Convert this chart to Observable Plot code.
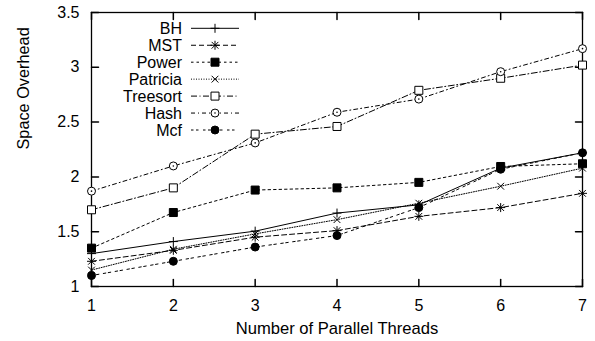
<!DOCTYPE html>
<html><head><meta charset="utf-8">
<script src="https://cdn.jsdelivr.net/npm/d3@7"></script>
<script src="https://cdn.jsdelivr.net/npm/@observablehq/plot@0.6"></script>
<style>body{margin:0;background:#fff}</style>
</head><body><div id="chart"></div>
<script>
const threads = [1, 2, 3, 4, 5, 6, 7];
const seriesNames = ["BH", "MST", "Power", "Patricia", "Treesort", "Hash", "Mcf"];
const bh = [1.30, 1.41, 1.505, 1.67, 1.745, 2.08, 2.22];
const mst = [1.23, 1.33, 1.45, 1.51, 1.64, 1.72, 1.85];
const power = [1.35, 1.675, 1.88, 1.90, 1.95, 2.095, 2.12];
const patricia = [1.15, 1.34, 1.48, 1.61, 1.76, 1.915, 2.08];
const treesort = [1.70, 1.90, 2.39, 2.46, 2.79, 2.90, 3.02];
const hash = [1.87, 2.10, 2.31, 2.59, 2.71, 2.96, 3.17];
const mcf = [1.10, 1.23, 1.36, 1.465, 1.72, 2.07, 2.22];
const yTicks = [1, 1.5, 2, 2.5, 3, 3.5];

const seriesValues = [bh, mst, power, patricia, treesort, hash, mcf];

// custom symbols where half-extent = r
const h = (size) => Math.sqrt(size / Math.PI);
const symPlus = {draw(c, s) { const r = h(s); c.moveTo(-r, 0); c.lineTo(r, 0); c.moveTo(0, -r); c.lineTo(0, r); }};
const symTimes = {draw(c, s) { const r = h(s) * 0.75; c.moveTo(-r, -r); c.lineTo(r, r); c.moveTo(-r, r); c.lineTo(r, -r); }};
const symAst = {draw(c, s) { const r = h(s); const q = r * 0.75; c.moveTo(-r, 0); c.lineTo(r, 0); c.moveTo(0, -r); c.lineTo(0, r); c.moveTo(-q, -q); c.lineTo(q, q); c.moveTo(-q, q); c.lineTo(q, -q); }};
const symSquare = {draw(c, s) { const r = h(s); c.rect(-r, -r, 2 * r, 2 * r); }};
const symCircle = {draw(c, s) { const r = h(s); c.moveTo(r, 0); c.arc(0, 0, r, 0, 2 * Math.PI); }};

const styles = [
  {sym: symPlus, r: 4.5, fill: "none", dash: null},
  {sym: symAst, r: 4.5, fill: "none", dash: "5,3"},
  {sym: symSquare, r: 4, fill: "black", dash: "2.5,3"},
  {sym: symTimes, r: 4.5, fill: "none", dash: "1,1.5"},
  {sym: symSquare, r: 4, fill: "white", dash: "6,2.5,1,2.5"},
  {sym: symCircle, r: 4, fill: "white", dash: "4,3,1,3"},
  {sym: symCircle, r: 4, fill: "black", dash: "2.5,2.5,2.5,4.5"}
];

const tickShape = {draw(c, l) { c.moveTo(0, 0); c.lineTo(0, -l); }};

const marks = [
  Plot.frame({stroke: "black", strokeWidth: 1.3}),
  Plot.vector(threads, {x: d => d, frameAnchor: "bottom", length: 7, rotate: 0, anchor: "start", shape: tickShape, stroke: "black"}),
  Plot.vector(threads, {x: d => d, frameAnchor: "top", length: 7, rotate: 180, anchor: "start", shape: tickShape, stroke: "black"}),
  Plot.vector(yTicks, {y: d => d, frameAnchor: "left", length: 7, rotate: 90, anchor: "start", shape: tickShape, stroke: "black"}),
  Plot.vector(yTicks, {y: d => d, frameAnchor: "right", length: 7, rotate: -90, anchor: "start", shape: tickShape, stroke: "black"}),
  Plot.axisX(threads, {anchor: "bottom", tickSize: 0, tickPadding: 13, label: null, tickFormat: d => String(d)}),
  Plot.axisY(yTicks, {anchor: "left", tickSize: 0, tickPadding: 12, label: null, tickFormat: d => String(d)}),
  Plot.text(["Number of Parallel Threads"], {frameAnchor: "bottom", dy: 42, lineAnchor: "middle", fill: "black", fontSize: 16.6}),
  Plot.text(["Space Overhead"], {frameAnchor: "left", dx: -68, rotate: -90, lineAnchor: "middle", fill: "black", fontSize: 16.3})
];

seriesNames.forEach((name, i) => {
  const data = threads.map((t, j) => ({t, v: seriesValues[i][j]}));
  const st = styles[i];
  marks.push(Plot.line(data, {x: "t", y: "v", stroke: "black", strokeWidth: 1, strokeDasharray: st.dash}));
});
seriesNames.forEach((name, i) => {
  const data = threads.map((t, j) => ({t, v: seriesValues[i][j]}));
  const st = styles[i];
  marks.push(Plot.dot(data, {x: "t", y: "v", symbol: st.sym, r: st.r, fill: st.fill, stroke: "black", strokeWidth: 1}));
  if (name === "Hash") marks.push(Plot.dot(data, {x: "t", y: "v", r: 0.8, fill: "black", stroke: "none"}));
});

const chart = Plot.plot({
  width: 595, height: 341,
  marginLeft: 91, marginRight: 13, marginTop: 12, marginBottom: 55,
  style: {fontFamily: "'Liberation Sans', Arial, sans-serif", fontSize: "16px", background: "white", color: "black", overflow: "visible"},
  x: {domain: [1, 7]},
  y: {domain: [1, 3.5]},
  marks
});

// legend (inside the plot area, top-left)
const svg = d3.select(chart);
const lg = svg.append("g").attr("font-family", "'Liberation Sans', Arial, sans-serif").attr("font-size", 16);
seriesNames.forEach((name, i) => {
  const y = 28.3 + i * 16.95;
  const st = styles[i];
  lg.append("text").attr("x", 182).attr("y", y).attr("dy", "0.35em").attr("text-anchor", "end").attr("fill", "black").text(name);
  lg.append("line").attr("x1", 191).attr("x2", 239).attr("y1", y).attr("y2", y)
    .attr("stroke", "black").attr("stroke-width", 1).attr("stroke-dasharray", st.dash);
  lg.append("path").attr("transform", `translate(215,${y})`)
    .attr("d", d3.symbol(st.sym, st.r * st.r * Math.PI)())
    .attr("fill", st.fill).attr("stroke", "black");
  if (name === "Hash") lg.append("circle").attr("cx", 215).attr("cy", y).attr("r", 0.8).attr("fill", "black");
});

document.getElementById("chart").appendChild(chart);
</script>
</body></html>
